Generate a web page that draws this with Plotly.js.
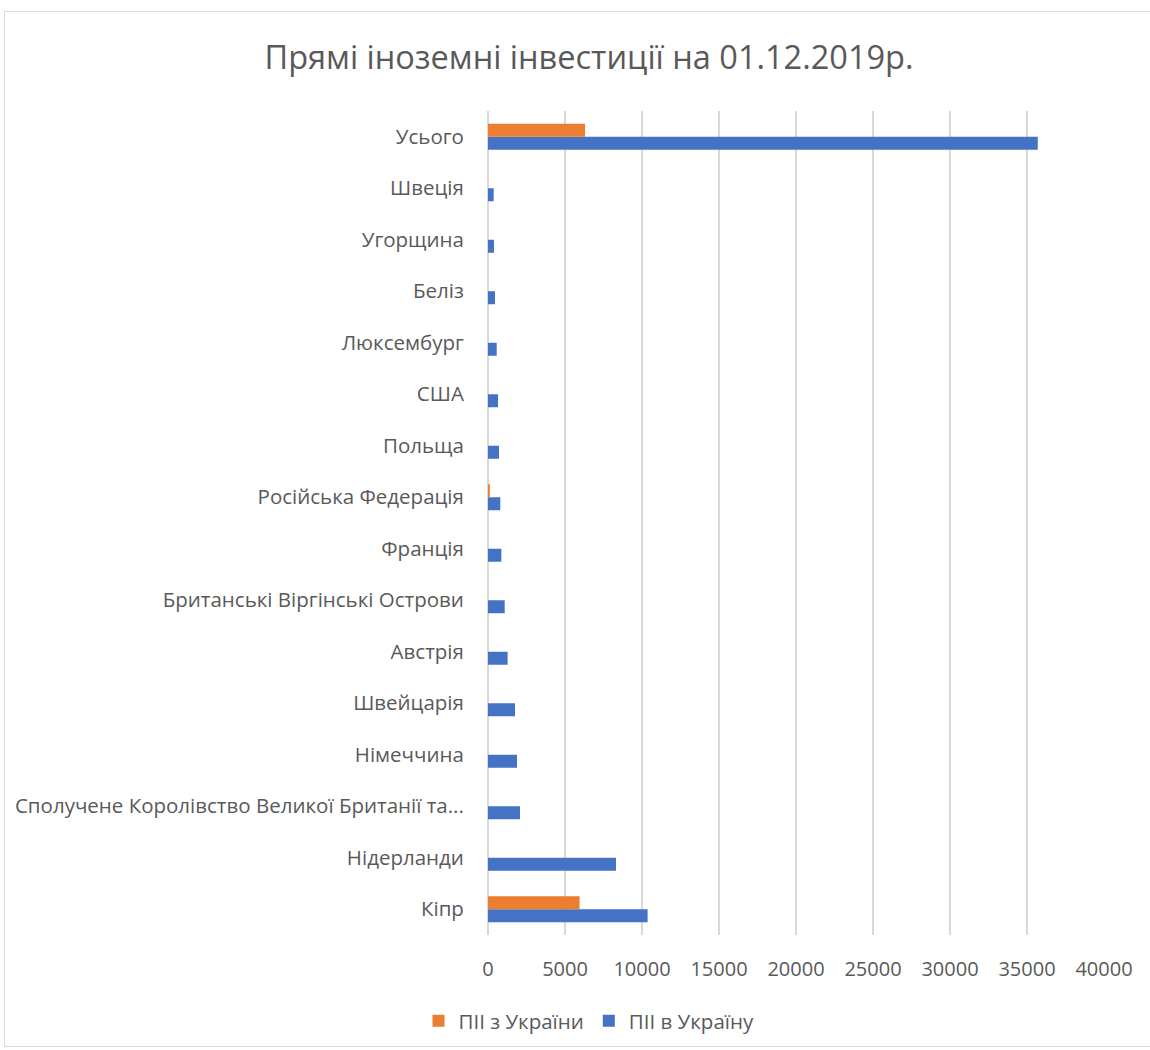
<!DOCTYPE html>
<html>
<head>
<meta charset="utf-8">
<script src="https://cdn.plot.ly/plotly-3.0.1.min.js"></script>
<style>
html,body{margin:0;padding:0;background:#fff;overflow:hidden;}
#wrap{position:absolute;left:4px;top:11px;width:1168px;height:1036px;border:1px solid #d9d9d9;box-sizing:border-box;}
#chart{position:absolute;left:0;top:0;width:1168px;height:1036px;}
</style>
</head>
<body>
<div id="wrap"><div id="chart"></div></div>
<script>
const categories = ["Кіпр","Нідерланди","Сполучене Королівство Великої Британії та...","Німеччина","Швейцарія","Австрія","Британські Віргінські Острови","Франція","Російська Федерація","Польща","США","Люксембург","Беліз","Угорщина","Швеція","Усього"];
const piiVUkrainu = [10364,8312,2078,1883,1753,1273,1085,865,800,715,650,565,455,390,370,35700];
const piiZUkrainy = [5948,0,0,0,0,0,0,0,120,0,0,0,0,0,0,6300];
const xTicks = [0,5000,10000,15000,20000,25000,30000,35000,40000];

const font = "'Open Sans', 'Noto Sans', sans-serif";
const traces = [
  {type:'bar', orientation:'h', name:'ПІІ в Україну', y:categories, x:piiVUkrainu, marker:{color:'#4472C4'}, hoverinfo:'x+y'},
  {type:'bar', orientation:'h', name:'ПІІ з України', y:categories, x:piiZUkrainy, marker:{color:'#ED7D31'}, hoverinfo:'x+y'}
];
const layout = {
  width:1168, height:1036,
  margin:{l:483, r:69, t:99, b:113},
  paper_bgcolor:'rgba(0,0,0,0)', plot_bgcolor:'#fff',
  font:{family:font, color:'#595959', size:20},
  title:{text:'Прямі іноземні інвестиції на 01.12.2019р.', x:0.5, xref:'container', y:1-46/1036, yref:'container', yanchor:'middle', font:{size:32.5, color:'#595959', family:font}},
  barmode:'group', bargap:0.495, bargroupgap:0,
  xaxis:{range:[0,40000], tickvals:xTicks, ticktext:xTicks.map(String), showgrid:true, gridcolor:'#d9d9d9', gridwidth:1.5, zeroline:true, zerolinecolor:'#d9d9d9', zerolinewidth:1.5, showline:false, ticks:'outside', ticklen:16, tickcolor:'rgba(0,0,0,0)', tickfont:{size:20, color:'#595959'}, fixedrange:true},
  yaxis:{type:'category', categoryorder:'array', categoryarray:categories, showgrid:false, zeroline:false, showline:false, ticks:'outside', ticklen:19, tickcolor:'rgba(0,0,0,0)', tickfont:{size:20.5, color:'#595959'}, fixedrange:true},
  legend:{orientation:'h', traceorder:'reversed', x:0.5, xanchor:'center', xref:'container', y:1-(1020-11)/1036, yref:'container', yanchor:'middle', font:{size:20.5, color:'#595959'}, itemwidth:30},
  showlegend:true
};
Plotly.newPlot('chart', traces, layout, {displayModeBar:false, staticPlot:true});
</script>
</body>
</html>
